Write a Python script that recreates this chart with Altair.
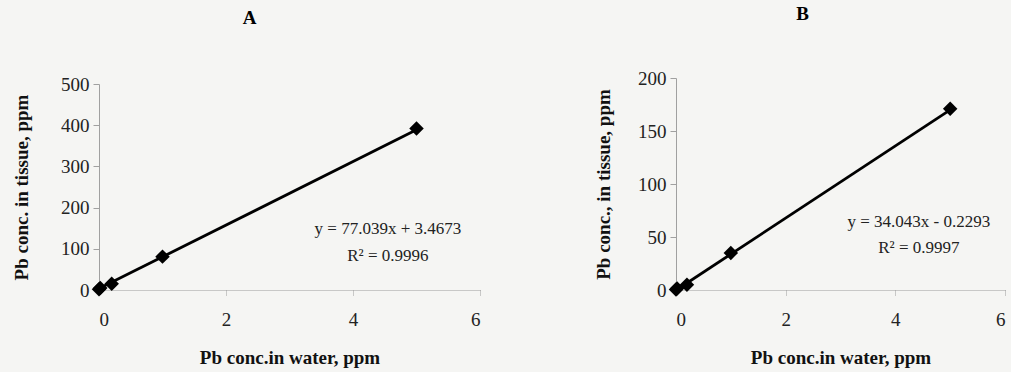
import altair as alt
import pandas as pd

# Pb concentration in water (ppm) and the measured concentration in tissue (ppm)
water_ppm = [0, 0.02, 0.2, 1, 5]
tissue_a = [2, 5, 15, 81, 392]
tissue_b = [0.5, 1.5, 5, 35, 171]

# Linear fits reported on each panel
fit_a = {"slope": 77.039, "intercept": 3.4673, "r2": 0.9996}
fit_b = {"slope": 34.043, "intercept": -0.2293, "r2": 0.9997}

FONT = "Liberation Serif"
BG = "#f5f5f3"
PANEL_H = 212


def fmt_eq(fit):
    sign = "+" if fit["intercept"] >= 0 else "-"
    return f"y = {fit['slope']}x {sign} {abs(fit['intercept'])}"


def panel(name, ys, fit, y_max, y_step, y_title, width, y_top, y_title_pad,
          eq_x, eq_y, r2_y, title_dx, title_offset):
    pts = pd.DataFrame({"x": water_ppm, "y": ys})
    xs = [min(water_ppm), max(water_ppm)]
    line_df = pd.DataFrame({"x": xs, "y": [fit["slope"] * v + fit["intercept"] for v in xs]})
    labels = pd.DataFrame({
        "x": [eq_x, eq_x],
        "y": [eq_y, r2_y],
        "t": [fmt_eq(fit), f"R² = {fit['r2']}"],
    })

    x_enc = alt.X(
        "x:Q",
        scale=alt.Scale(domain=[0, 6], nice=False, zero=True),
        axis=alt.Axis(
            values=[0, 2, 4, 6], format="d", title="Pb conc.in water, ppm", grid=False,
            domainDash=[1, 1], tickDash=[1, 1], domainColor="#9a9a9a", tickColor="#9a9a9a",
            tickSize=5, labelPadding=15, titlePadding=19,
        ),
    )
    y_enc = alt.Y(
        "y:Q",
        scale=alt.Scale(domain=[0, y_max], nice=False, range=[PANEL_H, y_top]),
        axis=alt.Axis(
            values=list(range(0, y_max + 1, y_step)), title=y_title, grid=False,
            domainColor="#a0a0a0", tickColor="#a0a0a0", tickSize=6, labelPadding=4,
            titlePadding=y_title_pad,
        ),
    )

    trend = alt.Chart(line_df).mark_line(color="black", strokeWidth=2.8).encode(x=x_enc, y=y_enc)
    dots = alt.Chart(pts).mark_point(shape="diamond", filled=True, color="black", size=210, opacity=1).encode(
        x=x_enc, y=y_enc
    )
    eq = alt.Chart(labels).mark_text(font=FONT, fontSize=17, fontWeight="normal", color="#222").encode(
        x=x_enc, y=y_enc, text="t:N"
    )
    return alt.layer(trend, dots, eq).properties(
        width=width,
        height=PANEL_H,
        title=alt.TitleParams(name, font=FONT, fontSize=19, fontWeight="bold", dx=title_dx, offset=title_offset),
    )


chart_a = panel("A", tissue_a, fit_a, 500, 100, "Pb conc. in tissue, ppm", 381, 6, 29,
                4.55, 147, 82, -40, 47)
chart_b = panel("B", tissue_b, fit_b, 200, 50, "Pb conc., in tissue, ppm", 329, 0, 24,
                4.43, 64, 40, -38, 45)

chart = (
    alt.hconcat(chart_a, chart_b, spacing=113)
    .properties(background=BG, padding={"left": 12, "top": 5, "right": 5, "bottom": 5})
    .configure_view(stroke=None)
    .configure_axis(
        labelFont=FONT, labelFontSize=19, labelColor="#222",
        titleFont=FONT, titleFontSize=19, titleFontWeight="bold", titleColor="#111",
    )
)

chart.save("out.html", embed_options={"renderer": "svg", "actions": False})
